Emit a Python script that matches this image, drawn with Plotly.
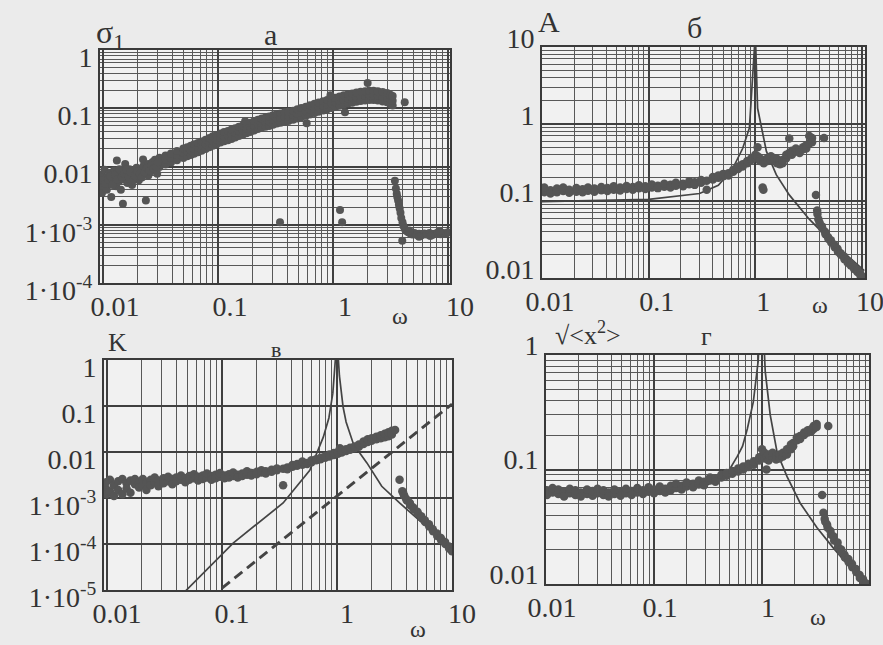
import plotly.graph_objects as go

# ---------------- panel а : sigma_1(omega) ----------------
# scattered low-frequency part
sigma1_points = [
    (0.0097, 0.0045), (0.0097, 0.0072), (0.0098, 0.0035), (0.0102, 0.0058), (0.0103, 0.0088),
    (0.0108, 0.0040), (0.0108, 0.0065), (0.0113, 0.0075), (0.0114, 0.0050), (0.0118, 0.0030),
    (0.0124, 0.0062), (0.0125, 0.0085), (0.0130, 0.0046), (0.0132, 0.0127), (0.0136, 0.0070),
    (0.0137, 0.0055), (0.0142, 0.0082), (0.0143, 0.0040), (0.0149, 0.0023), (0.0150, 0.0060),
    (0.0156, 0.0110), (0.0157, 0.0068), (0.0163, 0.0052), (0.0164, 0.0078), (0.0170, 0.0090),
    (0.0171, 0.0060), (0.0178, 0.0072), (0.0179, 0.0048), (0.0186, 0.0064), (0.0187, 0.0085),
    (0.0195, 0.0075), (0.0196, 0.0095), (0.0204, 0.0068), (0.0205, 0.0058), (0.0213, 0.0088),
    (0.0223, 0.0132), (0.0224, 0.0078), (0.0225, 0.0102), (0.0236, 0.0026), (0.0237, 0.0090),
    (0.0247, 0.0110), (0.0248, 0.0070), (0.0258, 0.0095), (0.0259, 0.0082), (0.0270, 0.0120),
    (0.0271, 0.0100), (0.0282, 0.0085), (0.0283, 0.0130), (0.0295, 0.0108), (0.0296, 0.0075),
    (0.0099, 0.0058), (0.0105, 0.0050), (0.0111, 0.0060), (0.0116, 0.0068), (0.0121, 0.0048),
    (0.0127, 0.0072), (0.0133, 0.0060), (0.0139, 0.0090), (0.0146, 0.0066), (0.0153, 0.0075),
    (0.0160, 0.0088), (0.0167, 0.0066), (0.0174, 0.0080), (0.0182, 0.0058), (0.0190, 0.0070),
    (0.0199, 0.0082), (0.0209, 0.0075), (0.0218, 0.0065), (0.0230, 0.0080), (0.0242, 0.0095),
    (0.0253, 0.0085), (0.0264, 0.0105), (0.0276, 0.0092), (0.0290, 0.0098), (0.0300, 0.0118),
    # isolated points
    (0.172, 0.060), (0.59, 0.055), (0.95, 0.167), (1.27, 0.085), (2.0, 0.270), (4.2, 0.127),
    (0.346, 0.0011), (1.15, 0.0018), (1.2, 0.0011),
    # drop above omega ~ 3.4
    (3.45, 0.0057), (3.52, 0.0042), (3.58, 0.0034), (3.62, 0.0030), (3.68, 0.0026),
    (3.74, 0.0022), (3.80, 0.0019), (3.86, 0.0016), (3.92, 0.0013), (4.00, 0.00053),
    (4.02, 0.0011), (4.1, 0.00095), (4.2, 0.00085), (4.35, 0.00078), (4.5, 0.00074),
    (4.7, 0.00071), (4.9, 0.00068), (5.1, 0.00072), (5.35, 0.00067), (5.6, 0.00070),
    (5.9, 0.00066), (6.2, 0.00071), (6.5, 0.00068), (6.9, 0.00072), (7.3, 0.00067),
    (7.7, 0.00070), (8.1, 0.00073), (8.6, 0.00069), (9.1, 0.00072), (9.6, 0.00070),
    (10.0, 0.00074), (4.6, 0.00080), (5.6, 0.00062), (7.0, 0.00064), (8.4, 0.00078),
]
# main rising band: omega, lower, middle, upper
sigma1_band = [
    (0.031, 0.0098, 0.0120, 0.0142), (0.035, 0.0108, 0.0131, 0.0155), (0.039, 0.0117, 0.0140, 0.0168),
    (0.044, 0.0128, 0.0156, 0.0185), (0.050, 0.0140, 0.0170, 0.0203), (0.054, 0.0150, 0.0181, 0.0215),
    (0.058, 0.0157, 0.0190, 0.0228), (0.062, 0.0166, 0.0201, 0.0240), (0.067, 0.0175, 0.0210, 0.0252),
    (0.072, 0.0186, 0.0226, 0.0268), (0.078, 0.0199, 0.0240, 0.0288), (0.084, 0.0214, 0.0262, 0.0310),
    (0.090, 0.0228, 0.0275, 0.0330), (0.097, 0.0240, 0.0291, 0.0348), (0.105, 0.0258, 0.0310, 0.0370),
    (0.113, 0.0270, 0.0326, 0.0392), (0.122, 0.0283, 0.0340, 0.0408), (0.131, 0.0298, 0.0361, 0.0432),
    (0.141, 0.0315, 0.0380, 0.0455), (0.152, 0.0333, 0.0402, 0.0480), (0.164, 0.0350, 0.0420, 0.0505),
    (0.177, 0.0373, 0.0450, 0.0538), (0.191, 0.0390, 0.0470, 0.0565), (0.206, 0.0415, 0.0500, 0.0598),
    (0.222, 0.0440, 0.0530, 0.0635), (0.240, 0.0465, 0.0560, 0.0670), (0.259, 0.0482, 0.0580, 0.0697),
    (0.279, 0.0498, 0.0600, 0.0720), (0.301, 0.0522, 0.0630, 0.0755), (0.325, 0.0548, 0.0660, 0.0790),
    (0.350, 0.0565, 0.0680, 0.0815), (0.380, 0.0590, 0.0710, 0.0850), (0.410, 0.0606, 0.0730, 0.0875),
    (0.450, 0.0632, 0.0760, 0.0910), (0.490, 0.0665, 0.0800, 0.0960), (0.530, 0.0698, 0.0840, 0.1005),
    (0.580, 0.0740, 0.0890, 0.1065), (0.630, 0.0780, 0.0940, 0.1125), (0.690, 0.0830, 0.1000, 0.1200),
    (0.750, 0.0872, 0.1050, 0.1258), (0.820, 0.0915, 0.1100, 0.1318), (0.890, 0.0965, 0.1160, 0.1390),
    (0.970, 0.1005, 0.1210, 0.1450), (1.050, 0.1055, 0.1270, 0.1520), (1.140, 0.1105, 0.1330, 0.1595),
    (1.240, 0.1155, 0.1390, 0.1665), (1.350, 0.1205, 0.1450, 0.1738), (1.470, 0.1245, 0.1500, 0.1798),
    (1.600, 0.1288, 0.1550, 0.1858), (1.740, 0.1330, 0.1600, 0.1918), (1.900, 0.1362, 0.1640, 0.1965),
    (2.070, 0.1387, 0.1670, 0.2000), (2.250, 0.1380, 0.1660, 0.1990), (2.450, 0.1355, 0.1630, 0.1952),
    (2.700, 0.1312, 0.1580, 0.1893), (2.950, 0.1262, 0.1520, 0.1820), (3.150, 0.1180, 0.1420, 0.1700),
    (3.300, 0.1120, 0.1350, 0.1618),
]

# ---------------- panel б : A(omega) ----------------
amp_points = [
    (0.0105, 0.130), (0.0105, 0.150), (0.012, 0.138), (0.012, 0.125), (0.0138, 0.145),
    (0.0138, 0.130), (0.0158, 0.135), (0.0158, 0.150), (0.018, 0.140), (0.018, 0.128),
    (0.021, 0.132), (0.021, 0.147), (0.024, 0.142), (0.024, 0.130), (0.027, 0.136),
    (0.027, 0.150), (0.031, 0.145), (0.031, 0.132), (0.036, 0.138), (0.036, 0.152),
    (0.041, 0.148), (0.041, 0.135), (0.047, 0.140), (0.047, 0.155), (0.054, 0.150),
    (0.054, 0.137), (0.062, 0.143), (0.062, 0.157), (0.071, 0.152), (0.071, 0.140),
    (0.081, 0.146), (0.081, 0.160), (0.093, 0.155), (0.093, 0.143), (0.107, 0.150),
    (0.107, 0.164), (0.122, 0.158), (0.122, 0.147), (0.14, 0.153), (0.14, 0.168),
    (0.16, 0.162), (0.16, 0.150), (0.18, 0.158), (0.18, 0.173), (0.21, 0.168),
    (0.21, 0.155), (0.24, 0.165), (0.24, 0.180), (0.27, 0.175), (0.27, 0.162),
    (0.31, 0.172), (0.31, 0.188), (0.35, 0.183), (0.35, 0.140), (0.40, 0.190),
    (0.40, 0.205), (0.45, 0.200), (0.45, 0.215), (0.50, 0.210), (0.50, 0.225),
    (0.56, 0.230), (0.56, 0.215), (0.62, 0.240), (0.62, 0.255), (0.69, 0.260),
    (0.69, 0.280), (0.76, 0.280), (0.76, 0.300), (0.84, 0.310), (0.84, 0.330),
    (0.92, 0.340), (0.92, 0.360), (1.0, 0.370), (1.0, 0.400), (1.05, 0.500),
    (1.05, 0.380), (1.1, 0.360), (1.1, 0.330), (1.17, 0.150), (1.19, 0.140),
    (1.2, 0.340), (1.2, 0.310), (1.3, 0.360), (1.3, 0.330), (1.4, 0.340),
    (1.4, 0.380), (1.5, 0.330), (1.5, 0.360), (1.6, 0.310), (1.6, 0.350),
    (1.7, 0.330), (1.7, 0.300), (1.8, 0.310), (1.8, 0.340), (1.95, 0.360),
    (1.95, 0.400), (2.08, 0.650), (2.08, 0.420), (2.2, 0.400), (2.2, 0.450),
    (2.4, 0.440), (2.4, 0.480), (2.6, 0.460), (2.6, 0.420), (2.8, 0.500),
    (2.8, 0.470), (3.0, 0.530), (3.0, 0.480), (3.2, 0.560), (3.2, 0.700),
    (3.4, 0.660), (3.4, 0.580), (4.4, 0.660),
    # drop above omega ~ 3.7
    (3.7, 0.120), (3.8, 0.075), (3.82, 0.068), (3.9, 0.058), (4.0, 0.052),
    (4.2, 0.047), (4.25, 0.044), (4.5, 0.040), (4.55, 0.037), (4.8, 0.034),
    (4.85, 0.032), (5.1, 0.031), (5.15, 0.029), (5.5, 0.027), (5.55, 0.025),
    (5.9, 0.024), (5.95, 0.022), (6.3, 0.021), (6.35, 0.020), (6.8, 0.019),
    (6.85, 0.0175), (7.3, 0.0168), (7.35, 0.0158), (7.8, 0.0155), (7.85, 0.0145),
    (8.4, 0.0140), (8.45, 0.0131), (9.0, 0.0128), (9.05, 0.0120), (9.6, 0.0115),
    (9.65, 0.0108), (10.0, 0.0105),
]
amp_curve_w = [0.0095, 0.03, 0.1, 0.3, 0.45, 0.61, 0.76, 0.88, 0.93, 0.985,
               1.0, 1.05, 1.27, 1.57, 2.08, 3.2, 5.25, 10.5]
amp_curve_a = [0.098, 0.101, 0.105, 0.125, 0.16, 0.26, 0.48, 0.89, 3.0, 15.0,
               15.0, 1.6, 0.44, 0.22, 0.12, 0.058, 0.029, 0.0125]

# ---------------- panel в : K(omega) ----------------
k_points = [
    (0.0098, 0.0016), (0.0098, 0.0022), (0.0099, 0.0012), (0.0106, 0.0025), (0.0106, 0.0014),
    (0.0115, 0.0019), (0.0115, 0.0011), (0.0125, 0.0023), (0.0125, 0.0015), (0.0136, 0.0026),
    (0.0136, 0.0012), (0.0148, 0.0021), (0.0148, 0.0016), (0.016, 0.0024), (0.016, 0.0013),
    (0.0175, 0.0020), (0.0175, 0.0026), (0.019, 0.0022), (0.019, 0.0017), (0.0205, 0.0026),
    (0.0205, 0.0019), (0.022, 0.0021), (0.022, 0.0015), (0.024, 0.0025), (0.024, 0.0019),
    (0.026, 0.0022), (0.026, 0.0028), (0.028, 0.0024), (0.028, 0.0018), (0.031, 0.0027),
    (0.031, 0.0021), (0.034, 0.0023), (0.034, 0.0029), (0.037, 0.0026), (0.037, 0.0020),
    (0.040, 0.0028), (0.040, 0.0023), (0.044, 0.0025), (0.044, 0.0031), (0.048, 0.0027),
    (0.048, 0.0022), (0.052, 0.0030), (0.052, 0.0025), (0.057, 0.0027), (0.057, 0.0033),
    (0.062, 0.0029), (0.062, 0.0024), (0.068, 0.0031), (0.068, 0.0026), (0.074, 0.0028),
    (0.074, 0.0034), (0.081, 0.0030), (0.081, 0.0025), (0.088, 0.0032), (0.088, 0.0027),
    (0.096, 0.0029), (0.096, 0.0035), (0.105, 0.0031), (0.105, 0.0027), (0.115, 0.0033),
    (0.115, 0.0028), (0.125, 0.0030), (0.125, 0.0036), (0.137, 0.0032), (0.137, 0.0028),
    (0.15, 0.0034), (0.15, 0.0030), (0.165, 0.0032), (0.165, 0.0038), (0.18, 0.0035),
    (0.18, 0.0031), (0.20, 0.0037), (0.20, 0.0033), (0.22, 0.0036), (0.22, 0.0040),
    (0.24, 0.0038), (0.24, 0.0034), (0.27, 0.0041), (0.27, 0.0037), (0.30, 0.0040),
    (0.30, 0.0044), (0.34, 0.0019), (0.34, 0.0043), (0.37, 0.0046), (0.37, 0.0042),
    (0.41, 0.0048), (0.41, 0.0052), (0.45, 0.0050), (0.45, 0.0055), (0.50, 0.0053),
    (0.50, 0.0062), (0.55, 0.0058), (0.55, 0.0055), (0.60, 0.0060), (0.60, 0.0066),
    (0.66, 0.0066), (0.66, 0.0070), (0.72, 0.0070), (0.72, 0.0075), (0.79, 0.0075),
    (0.79, 0.0081), (0.86, 0.0080), (0.86, 0.0088), (0.94, 0.0086), (0.94, 0.0095),
    (1.02, 0.0092), (1.02, 0.0100), (1.06, 0.0120), (1.1, 0.0098), (1.1, 0.0108),
    (1.2, 0.0105), (1.2, 0.0115), (1.3, 0.0112), (1.3, 0.0123), (1.42, 0.0120),
    (1.42, 0.0132), (1.55, 0.0130), (1.55, 0.0145), (1.7, 0.0150), (1.7, 0.0170),
    (1.85, 0.0165), (1.85, 0.0190), (2.0, 0.0175), (2.0, 0.0200), (2.2, 0.0190),
    (2.2, 0.0215), (2.4, 0.0200), (2.4, 0.0230), (2.6, 0.0210), (2.6, 0.0250),
    (2.8, 0.0220), (2.8, 0.0270), (3.0, 0.0240), (3.0, 0.0290), (3.2, 0.0300),
    # drop above omega ~ 3.5
    (3.5, 0.0025), (3.7, 0.0014), (3.8, 0.0012), (3.85, 0.0011), (4.0, 0.00095),
    (4.05, 0.00088), (4.3, 0.00078), (4.35, 0.00070), (4.6, 0.00062), (4.65, 0.00057),
    (5.0, 0.00050), (5.05, 0.00046), (5.4, 0.00040), (5.45, 0.00037), (5.8, 0.00033),
    (5.85, 0.00030), (6.3, 0.00027), (6.35, 0.00024), (6.8, 0.00021), (6.85, 0.00019),
    (7.4, 0.00017), (7.45, 0.00015), (8.0, 0.000135), (8.05, 0.00012), (8.7, 0.00011),
    (8.75, 0.00010), (9.4, 0.000088), (9.45, 0.00008), (10.0, 0.00007),
]
k_curve_w = [0.045, 0.125, 0.34, 0.58, 0.76, 0.85, 0.92, 0.95, 0.985,
             1.0, 1.05, 1.13, 1.2, 1.38, 1.6, 1.82, 2.45, 3.5, 6.1, 10.5]
k_curve_k = [8e-6, 1.05e-4, 7.8e-4, 0.004, 0.021, 0.055, 0.19, 0.5, 3.0,
             3.0, 0.45, 0.095, 0.045, 0.0157, 0.009, 0.0058, 0.0018, 7.8e-4, 2.3e-4, 7.5e-5]
k_dash_w = [0.1, 10.0]
k_dash_k = [1.1e-5, 0.11]

# ---------------- panel г : sqrt(<x^2>)(omega) ----------------
rms_points = [
    (0.0102, 0.066), (0.0102, 0.060), (0.0115, 0.063), (0.0115, 0.069), (0.013, 0.061),
    (0.013, 0.067), (0.0147, 0.064), (0.0147, 0.058), (0.0166, 0.062), (0.0166, 0.068),
    (0.0187, 0.060), (0.0187, 0.066), (0.021, 0.063), (0.021, 0.058), (0.024, 0.061),
    (0.024, 0.067), (0.027, 0.059), (0.027, 0.065), (0.030, 0.062), (0.030, 0.068),
    (0.034, 0.060), (0.034, 0.066), (0.038, 0.063), (0.038, 0.058), (0.043, 0.061),
    (0.043, 0.067), (0.049, 0.064), (0.049, 0.059), (0.055, 0.062), (0.055, 0.068),
    (0.062, 0.065), (0.062, 0.060), (0.070, 0.063), (0.070, 0.069), (0.079, 0.066),
    (0.079, 0.061), (0.089, 0.064), (0.089, 0.070), (0.10, 0.067), (0.10, 0.062),
    (0.113, 0.065), (0.113, 0.071), (0.127, 0.068), (0.127, 0.063), (0.143, 0.066),
    (0.143, 0.072), (0.16, 0.069), (0.16, 0.075), (0.18, 0.072), (0.18, 0.067),
    (0.20, 0.071), (0.20, 0.077), (0.23, 0.075), (0.23, 0.070), (0.26, 0.074),
    (0.26, 0.080), (0.29, 0.078), (0.29, 0.073), (0.33, 0.080), (0.33, 0.085),
    (0.37, 0.083), (0.37, 0.078), (0.42, 0.085), (0.42, 0.090), (0.47, 0.088),
    (0.47, 0.093), (0.53, 0.092), (0.53, 0.097), (0.60, 0.096), (0.60, 0.102),
    (0.67, 0.100), (0.67, 0.106), (0.75, 0.105), (0.75, 0.112), (0.84, 0.110),
    (0.84, 0.118), (0.94, 0.120), (0.94, 0.128), (1.0, 0.150), (1.0, 0.130),
    (1.05, 0.140), (1.05, 0.125), (1.1, 0.100), (1.1, 0.130), (1.15, 0.120),
    (1.15, 0.135), (1.25, 0.128), (1.25, 0.140), (1.35, 0.130), (1.35, 0.122),
    (1.45, 0.125), (1.45, 0.135), (1.56, 0.130), (1.56, 0.140), (1.7, 0.135),
    (1.7, 0.150), (1.85, 0.150), (1.85, 0.165), (1.94, 0.170), (1.94, 0.160),
    (2.1, 0.180), (2.1, 0.190), (2.25, 0.196), (2.25, 0.185), (2.45, 0.200),
    (2.45, 0.210), (2.65, 0.210), (2.65, 0.220), (2.85, 0.225), (2.85, 0.215),
    (3.0, 0.226), (3.0, 0.240), (3.2, 0.250), (3.2, 0.235), (4.1, 0.240),
    # drop above omega ~ 3.6
    (3.6, 0.060), (3.7, 0.042), (3.8, 0.037), (3.85, 0.035), (4.0, 0.033),
    (4.05, 0.031), (4.3, 0.029), (4.35, 0.027), (4.6, 0.026), (4.65, 0.024),
    (5.0, 0.023), (5.05, 0.021), (5.4, 0.020), (5.45, 0.019), (5.8, 0.018),
    (5.85, 0.017), (6.3, 0.0165), (6.35, 0.0155), (6.8, 0.0150), (6.85, 0.0140),
    (7.4, 0.0135), (7.45, 0.0127), (8.0, 0.0120), (8.05, 0.0113), (8.6, 0.0110),
    (8.65, 0.0104), (9.2, 0.0101),
]
rms_curve_w = [0.0095, 0.1, 0.3, 0.45, 0.5, 0.59, 0.66, 0.73, 0.83, 0.92, 0.985,
               1.0, 1.07, 1.19, 1.38, 1.7, 2.25, 3.23, 4.5, 6.5, 8.6, 10.5]
rms_curve_v = [0.062, 0.063, 0.072, 0.09, 0.1, 0.13, 0.16, 0.226, 0.39, 0.88, 3.0,
               3.0, 0.72, 0.3, 0.14, 0.087, 0.051, 0.031, 0.021, 0.014, 0.0106, 0.0085]

# tick labels
x_ticks = [0.01, 0.1, 1, 10]
x_ticktext = ["0.01", "0.1", "1", "10"]
ya_ticks = [1e-4, 1e-3, 0.01, 0.1, 1]
ya_ticktext = ["1·10<sup>-4</sup>", "1·10<sup>-3</sup>", "0.01", "0.1", "1"]
yb_ticks = [0.01, 0.1, 1, 10]
yb_ticktext = ["0.01", "0.1", "1", "10"]
yc_ticks = [1e-5, 1e-4, 1e-3, 0.01, 0.1, 1]
yc_ticktext = ["1·10<sup>-5</sup>", "1·10<sup>-4</sup>", "1·10<sup>-3</sup>", "0.01", "0.1", "1"]
yd_ticks = [0.01, 0.1, 1]
yd_ticktext = ["0.01", "0.1", "1"]

W, H = 883, 645
INK = "#444444"
DOT = "#555555"
TXT = "#333333"
FONT = "Liberation Serif"


def minor_vals(lo, hi):
    return [m * 10.0 ** e for e in range(lo, hi) for m in range(2, 10)]


def px(x):
    return x / W


def py(y):
    return 1 - y / H


fig = go.Figure()


def add_points(points, xa, ya, size=8):
    fig.add_trace(go.Scatter(
        x=[p[0] for p in points], y=[p[1] for p in points], mode="markers",
        marker=dict(size=size, color=DOT, line=dict(width=0)),
        xaxis=xa, yaxis=ya, showlegend=False, hoverinfo="skip"))


def add_curve(xs, ys, xa, ya, dash="solid", width=1.7):
    fig.add_trace(go.Scatter(
        x=xs, y=ys, mode="lines", line=dict(color=INK, width=width, dash=dash),
        xaxis=xa, yaxis=ya, showlegend=False, hoverinfo="skip"))


band_x = [row[0] for row in sigma1_band for _ in range(3)]
band_y = [v for row in sigma1_band for v in row[1:]]
add_points(list(zip(band_x, band_y)), "x", "y")
add_points(sigma1_points, "x", "y")
add_curve(amp_curve_w, amp_curve_a, "x2", "y2")
add_points(amp_points, "x2", "y2", size=8.5)
add_curve(k_curve_w, k_curve_k, "x3", "y3")
add_curve(k_dash_w, k_dash_k, "x3", "y3", dash="10px,6px", width=3)
add_points(k_points, "x3", "y3", size=8.5)
add_curve(rms_curve_w, rms_curve_v, "x4", "y4")
add_points(rms_points, "x4", "y4", size=8.5)


def x_axis(dom, rng, anchor, shift):
    return dict(
        type="log", domain=dom, range=rng, anchor=anchor, automargin=False,
        showline=True, linecolor="#3a3a3a", linewidth=2, mirror=True,
        ticks="", tickvals=x_ticks, ticktext=x_ticktext, ticklabeloverflow="allow",
        tickfont=dict(family=FONT, size=28, color=TXT), ticklabelshift=shift,
        ticklabelstandoff=-3,
        showgrid=True, gridcolor="#404040", gridwidth=2, zeroline=False,
        minor=dict(tickvals=minor_vals(-3, 2), showgrid=True, gridcolor="#585858", gridwidth=1.1))


def y_axis(dom, rng, anchor, vals, text, shift=7, minor_grid=True, lo=-6, hi=2):
    d = dict(
        type="log", domain=dom, range=rng, anchor=anchor, automargin=False,
        showline=True, linecolor="#3a3a3a", linewidth=2, mirror=True,
        ticks="", tickvals=vals, ticktext=text, ticklabeloverflow="allow",
        tickfont=dict(family=FONT, size=28, color=TXT), ticklabelshift=shift,
        showgrid=True, gridcolor="#404040", gridwidth=2, zeroline=False)
    if minor_grid:
        d["minor"] = dict(tickvals=minor_vals(lo, hi), showgrid=True, gridcolor="#585858", gridwidth=1.1)
    return d


fig.update_layout(
    width=W, height=H, margin=dict(l=0, r=0, t=0, b=0, pad=0, autoexpand=False),
    paper_bgcolor="#ebebeb", plot_bgcolor="#f1f1f1",
    xaxis=x_axis([px(100), px(450)], [-2.026, 1.017], "y", 12),
    yaxis=y_axis([py(283), py(50)], [-4, 0], "x", ya_ticks, ya_ticktext),
    xaxis2=x_axis([px(542), px(865)], [-2.0, 1.028], "y2", 8),
    yaxis2=y_axis([py(278), py(47)], [-2, 1], "x2", yb_ticks, yb_ticktext, shift=-9),
    xaxis3=x_axis([px(104), px(452)], [-2.026, 1.0], "y3", 10),
    yaxis3=y_axis([py(590), py(360)], [-5, 0], "x3", yc_ticks, yc_ticktext, minor_grid=False),
    xaxis4=x_axis([px(546), px(869)], [-2.0, 0.99], "y4", 6),
    yaxis4=y_axis([py(584), py(355)], [-2, 0], "x4", yd_ticks, yd_ticktext, shift=-10),
)

labels = [
    ("σ<sub>1</sub>", 110, 34, 32),
    ("а", 270, 35, 30),
    ("A", 549, 22, 30),
    ("б", 694, 28, 30),
    ("K", 117, 342, 26),
    ("в", 276, 349, 22),
    ("√&lt;x<sup>2</sup>&gt;", 588, 333, 26),
    ("г", 706, 337, 26),
    ("ω", 400, 316, 24),
    ("ω", 820, 305, 24),
    ("ω", 418, 629, 24),
    ("ω", 818, 617, 24),
]
for text, x, y, size in labels:
    fig.add_annotation(text=text, x=px(x), y=py(y), xref="paper", yref="paper",
                       showarrow=False, xanchor="center", yanchor="middle",
                       font=dict(family=FONT, size=size, color=TXT))

fig.write_html("out.html", post_script="document.body.style.margin = '0px';")
